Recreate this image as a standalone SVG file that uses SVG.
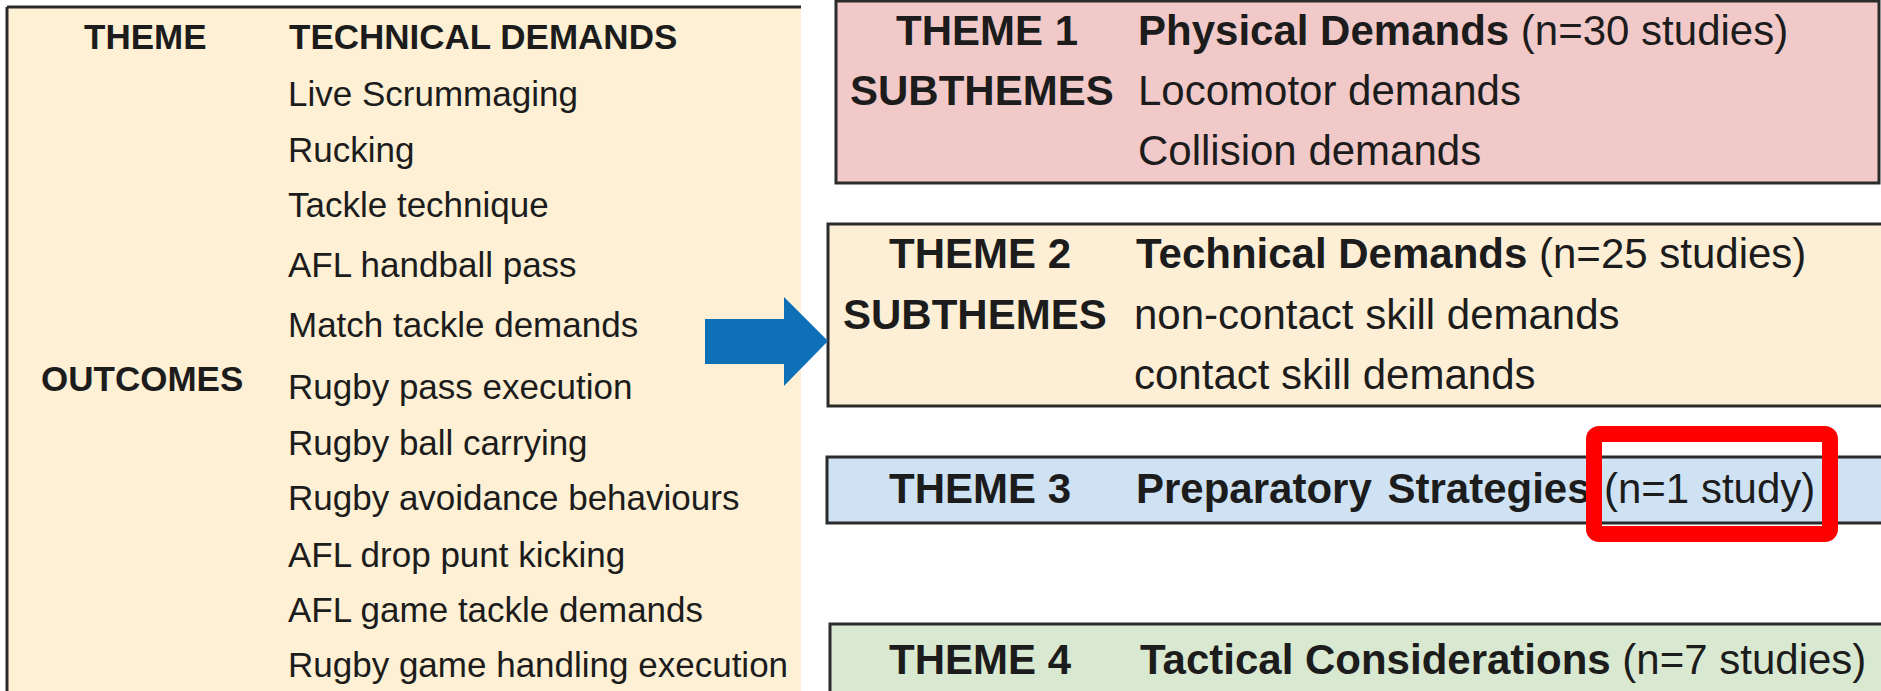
<svg xmlns="http://www.w3.org/2000/svg" width="1881" height="691" viewBox="0 0 1881 691">
<style>
text{font-family:"Liberation Sans",Arial,sans-serif;fill:#1c1c1c}
.l{font-size:35px}
.r{font-size:42px}
.b{font-weight:bold}
.box{stroke:#2b2b2b;stroke-width:3}
</style>
<rect width="1881" height="691" fill="#ffffff"/>
<g id="outcomes">
<rect x="7" y="7" width="794" height="690" fill="#fdf0d4"/>
<path d="M7,7 H801 M7,7 V691" stroke="#2b2b2b" stroke-width="3" fill="none"/>
<text class="l b" x="84" y="49">THEME</text>
<text class="l b" x="289" y="49">TECHNICAL DEMANDS</text>
<text class="l b" x="41" y="391">OUTCOMES</text>
<text class="l" x="288" y="106">Live Scrummaging</text>
<text class="l" x="288" y="162">Rucking</text>
<text class="l" x="288" y="217">Tackle technique</text>
<text class="l" x="288" y="277">AFL handball pass</text>
<text class="l" x="288" y="337">Match tackle demands</text>
<text class="l" x="288" y="399">Rugby pass execution</text>
<text class="l" x="288" y="455">Rugby ball carrying</text>
<text class="l" x="288" y="510">Rugby avoidance behaviours</text>
<text class="l" x="288" y="567">AFL drop punt kicking</text>
<text class="l" x="288" y="622">AFL game tackle demands</text>
<text class="l" x="288" y="677">Rugby game handling execution</text>
</g>
<g id="theme1">
<rect class="box" x="836" y="1" width="1043" height="182" fill="#f2c9c9"/>
<text class="r b" x="896" y="45">THEME 1</text>
<text class="r" x="1138" y="45"><tspan class="b">Physical Demands</tspan> (n=30 studies)</text>
<text class="r b" x="850" y="105">SUBTHEMES</text>
<text class="r" x="1138" y="105">Locomotor demands</text>
<text class="r" x="1138" y="165">Collision demands</text>
</g>
<g id="theme2">
<rect class="box" x="828" y="224" width="1060" height="182" fill="#fcefd6"/>
<text class="r b" x="889" y="268">THEME 2</text>
<text class="r" x="1136" y="268"><tspan class="b">Technical Demands</tspan> (n=25 studies)</text>
<text class="r b" x="843" y="329">SUBTHEMES</text>
<text class="r" x="1134" y="329">non-contact skill demands</text>
<text class="r" x="1134" y="389">contact skill demands</text>
</g>
<g id="theme3">
<rect class="box" x="827" y="457" width="1060" height="66" fill="#cfe2f3"/>
<text class="r b" x="889" y="503">THEME 3</text>
<text class="r b" x="1136" y="503" word-spacing="4">Preparatory Strategies</text>
<text class="r" x="1604" y="503">(n=1 study)</text>
</g>
<g id="theme4">
<rect class="box" x="830" y="624" width="1060" height="80" fill="#d9e8d0"/>
<text class="r b" x="889" y="674">THEME 4</text>
<text class="r" x="1140" y="674"><tspan class="b">Tactical Considerations</tspan> (n=7 studies)</text>
</g>
<g id="highlight">
<rect x="1594" y="434" width="236" height="100" rx="5" fill="none" stroke="#ff0000" stroke-width="16"/>
</g>
<g id="connectors">
<polygon points="705,319 784,319 784,297 828,341 784,386 784,364 705,364" fill="#0e71b8"/>
</g>
</svg>
